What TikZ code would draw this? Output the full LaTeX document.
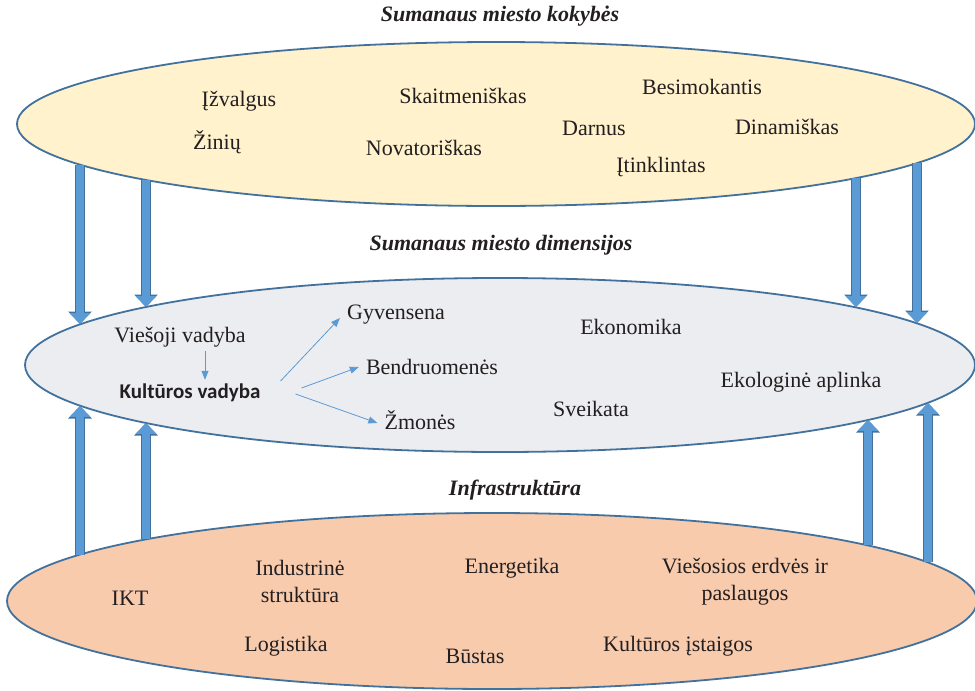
\documentclass[tikz,border=0pt]{standalone}
\usepackage{fontspec}
\setmainfont{Liberation Serif}
\newfontfamily\calibri{Carlito}
\usetikzlibrary{shapes.geometric, positioning, arrows.meta}

\definecolor{qualfill}{HTML}{FFF2CC}
\definecolor{dimfill}{HTML}{ECEDF0}
\definecolor{infrafill}{HTML}{F8CBAD}
\definecolor{rimblue}{HTML}{41719C}
\definecolor{arrowblue}{HTML}{5B9BD5}
\definecolor{inkgray}{HTML}{231F20}

\begin{document}
\begin{tikzpicture}[x=1pt,y=-1pt, font=\fontsize{22}{25}\selectfont, text=inkgray]

            \useasboundingbox (0,0) rectangle (975,691);

            % Define styles
            \tikzstyle{layer} = [ellipse, draw=rimblue, line width=1.8pt, inner sep=0pt]
            \tikzstyle{heading} = [font=\fontsize{22}{25}\selectfont\bfseries\itshape]
            \tikzstyle{item} = [align=center, inner sep=1pt]
            \tikzstyle{bigarrow} = [preaction={draw=rimblue, line width=10.8pt, -{Triangle[width=23pt,length=12.5pt]}},
                                    line width=8.6pt, draw=arrowblue, -{Triangle[width=20pt,length=10.8pt]}]
            \tikzstyle{thinarrow} = [line width=0.8pt, draw=arrowblue, -{Triangle[width=7pt,length=9pt]}]

            % Layers
            \node[layer, fill=qualfill, minimum width=958pt, minimum height=164pt] (qual) at (496,124) {};
            \node[layer, fill=dimfill, minimum width=950pt, minimum height=174pt] (dim) at (500,365) {};
            \node[layer, fill=infrafill, minimum width=970pt, minimum height=176pt] (infra) at (492,601) {};

            % Headings
            \node[heading] (qualtitle) at (500,16) {Sumanaus miesto kokybės};
            \node[heading] (dimtitle) at (501,245) {Sumanaus miesto dimensijos};
            \node[heading] (infratitle) at (515,490) {Infrastruktūra};

            % Quality items
            \node[item] (izvalgus) at (239,101) {Įžvalgus};
            \node[item] (ziniu) at (217,142) {Žinių};
            \node[item] (skaitm) at (463,96) {Skaitmeniškas};
            \node[item] (novat) at (424,148) {Novatoriškas};
            \node[item] (besim) at (702,87) {Besimokantis};
            \node[item] (darnus) at (594,128) {Darnus};
            \node[item] (dinam) at (787,127) {Dinamiškas};
            \node[item] (itinkl) at (661,167) {Įtinklintas};

            % Dimension items
            \node[item] (vies) at (180,337) {Viešoji vadyba};
            \node[item, font=\calibri\fontsize{21}{24}\selectfont\bfseries] (kult) at (190,393) {Kultūros vadyba};
            \node[item] (gyv) at (396,315) {Gyvensena};
            \node[item] (bendr) at (432,367) {Bendruomenės};
            \node[item] (zmon) at (420,420) {Žmonės};
            \node[item] (ekon) at (631,327) {Ekonomika};
            \node[item] (sveik) at (591,409) {Sveikata};
            \node[item] (ekol) at (801,382) {Ekologinė aplinka};

            % Infrastructure items
            \node[item] (ikt) at (130,598) {IKT};
            \node[item, font=\fontsize{22}{27}\selectfont] (indust) at (300,581) {Industrinė\\struktūra};
            \node[item] (energ) at (512,568) {Energetika};
            \node[item, font=\fontsize{22}{27}\selectfont] (viesos) at (745,582) {Viešosios erdvės ir\\paslaugos};
            \node[item] (logist) at (286,646) {Logistika};
            \node[item] (bustas) at (475,656) {Būstas};
            \node[item] (kistaig) at (678,646) {Kultūros įstaigos};

            % Arrow ends on the rims
            \coordinate (q1) at (80,165);
            \coordinate (q2) at (146,180);
            \coordinate (q3) at (856,178);
            \coordinate (q4) at (917,163);
            \coordinate (d1) at (80,324);
            \coordinate (d2) at (146,307);
            \coordinate (d3) at (856,307);
            \coordinate (d4) at (917,323);
            \coordinate (d5) at (80,406);
            \coordinate (d6) at (146,423);
            \coordinate (d7) at (868,420);
            \coordinate (d8) at (928,403);
            \coordinate (i1) at (80,555);
            \coordinate (i2) at (146,539);
            \coordinate (i3) at (868,545);
            \coordinate (i4) at (928,562);

            % Flows between layers
            \draw[bigarrow] (q1) -- (d1);
            \draw[bigarrow] (q2) -- (d2);
            \draw[bigarrow] (q3) -- (d3);
            \draw[bigarrow] (q4) -- (d4);
            \draw[bigarrow] (i1) -- (d5);
            \draw[bigarrow] (i2) -- (d6);
            \draw[bigarrow] (i3) -- (d7);
            \draw[bigarrow] (i4) -- (d8);

            % Culture management links
            \draw[thinarrow] ([xshift=25pt,yshift=-3pt]vies.south) -- ([xshift=25pt,yshift=3pt]vies.south |- kult.north);
            \draw[thinarrow] ([xshift=19pt,yshift=12pt]kult.east) -- ([xshift=-6pt,yshift=-3pt]gyv.west);
            \draw[thinarrow] ([xshift=40pt,yshift=5pt]kult.east) -- ([xshift=-6pt]bendr.west);
            \draw[thinarrow] ([xshift=34pt,yshift=-1pt]kult.east) -- ([xshift=-6pt,yshift=-3pt]zmon.west);

        \end{tikzpicture}
\end{document}
